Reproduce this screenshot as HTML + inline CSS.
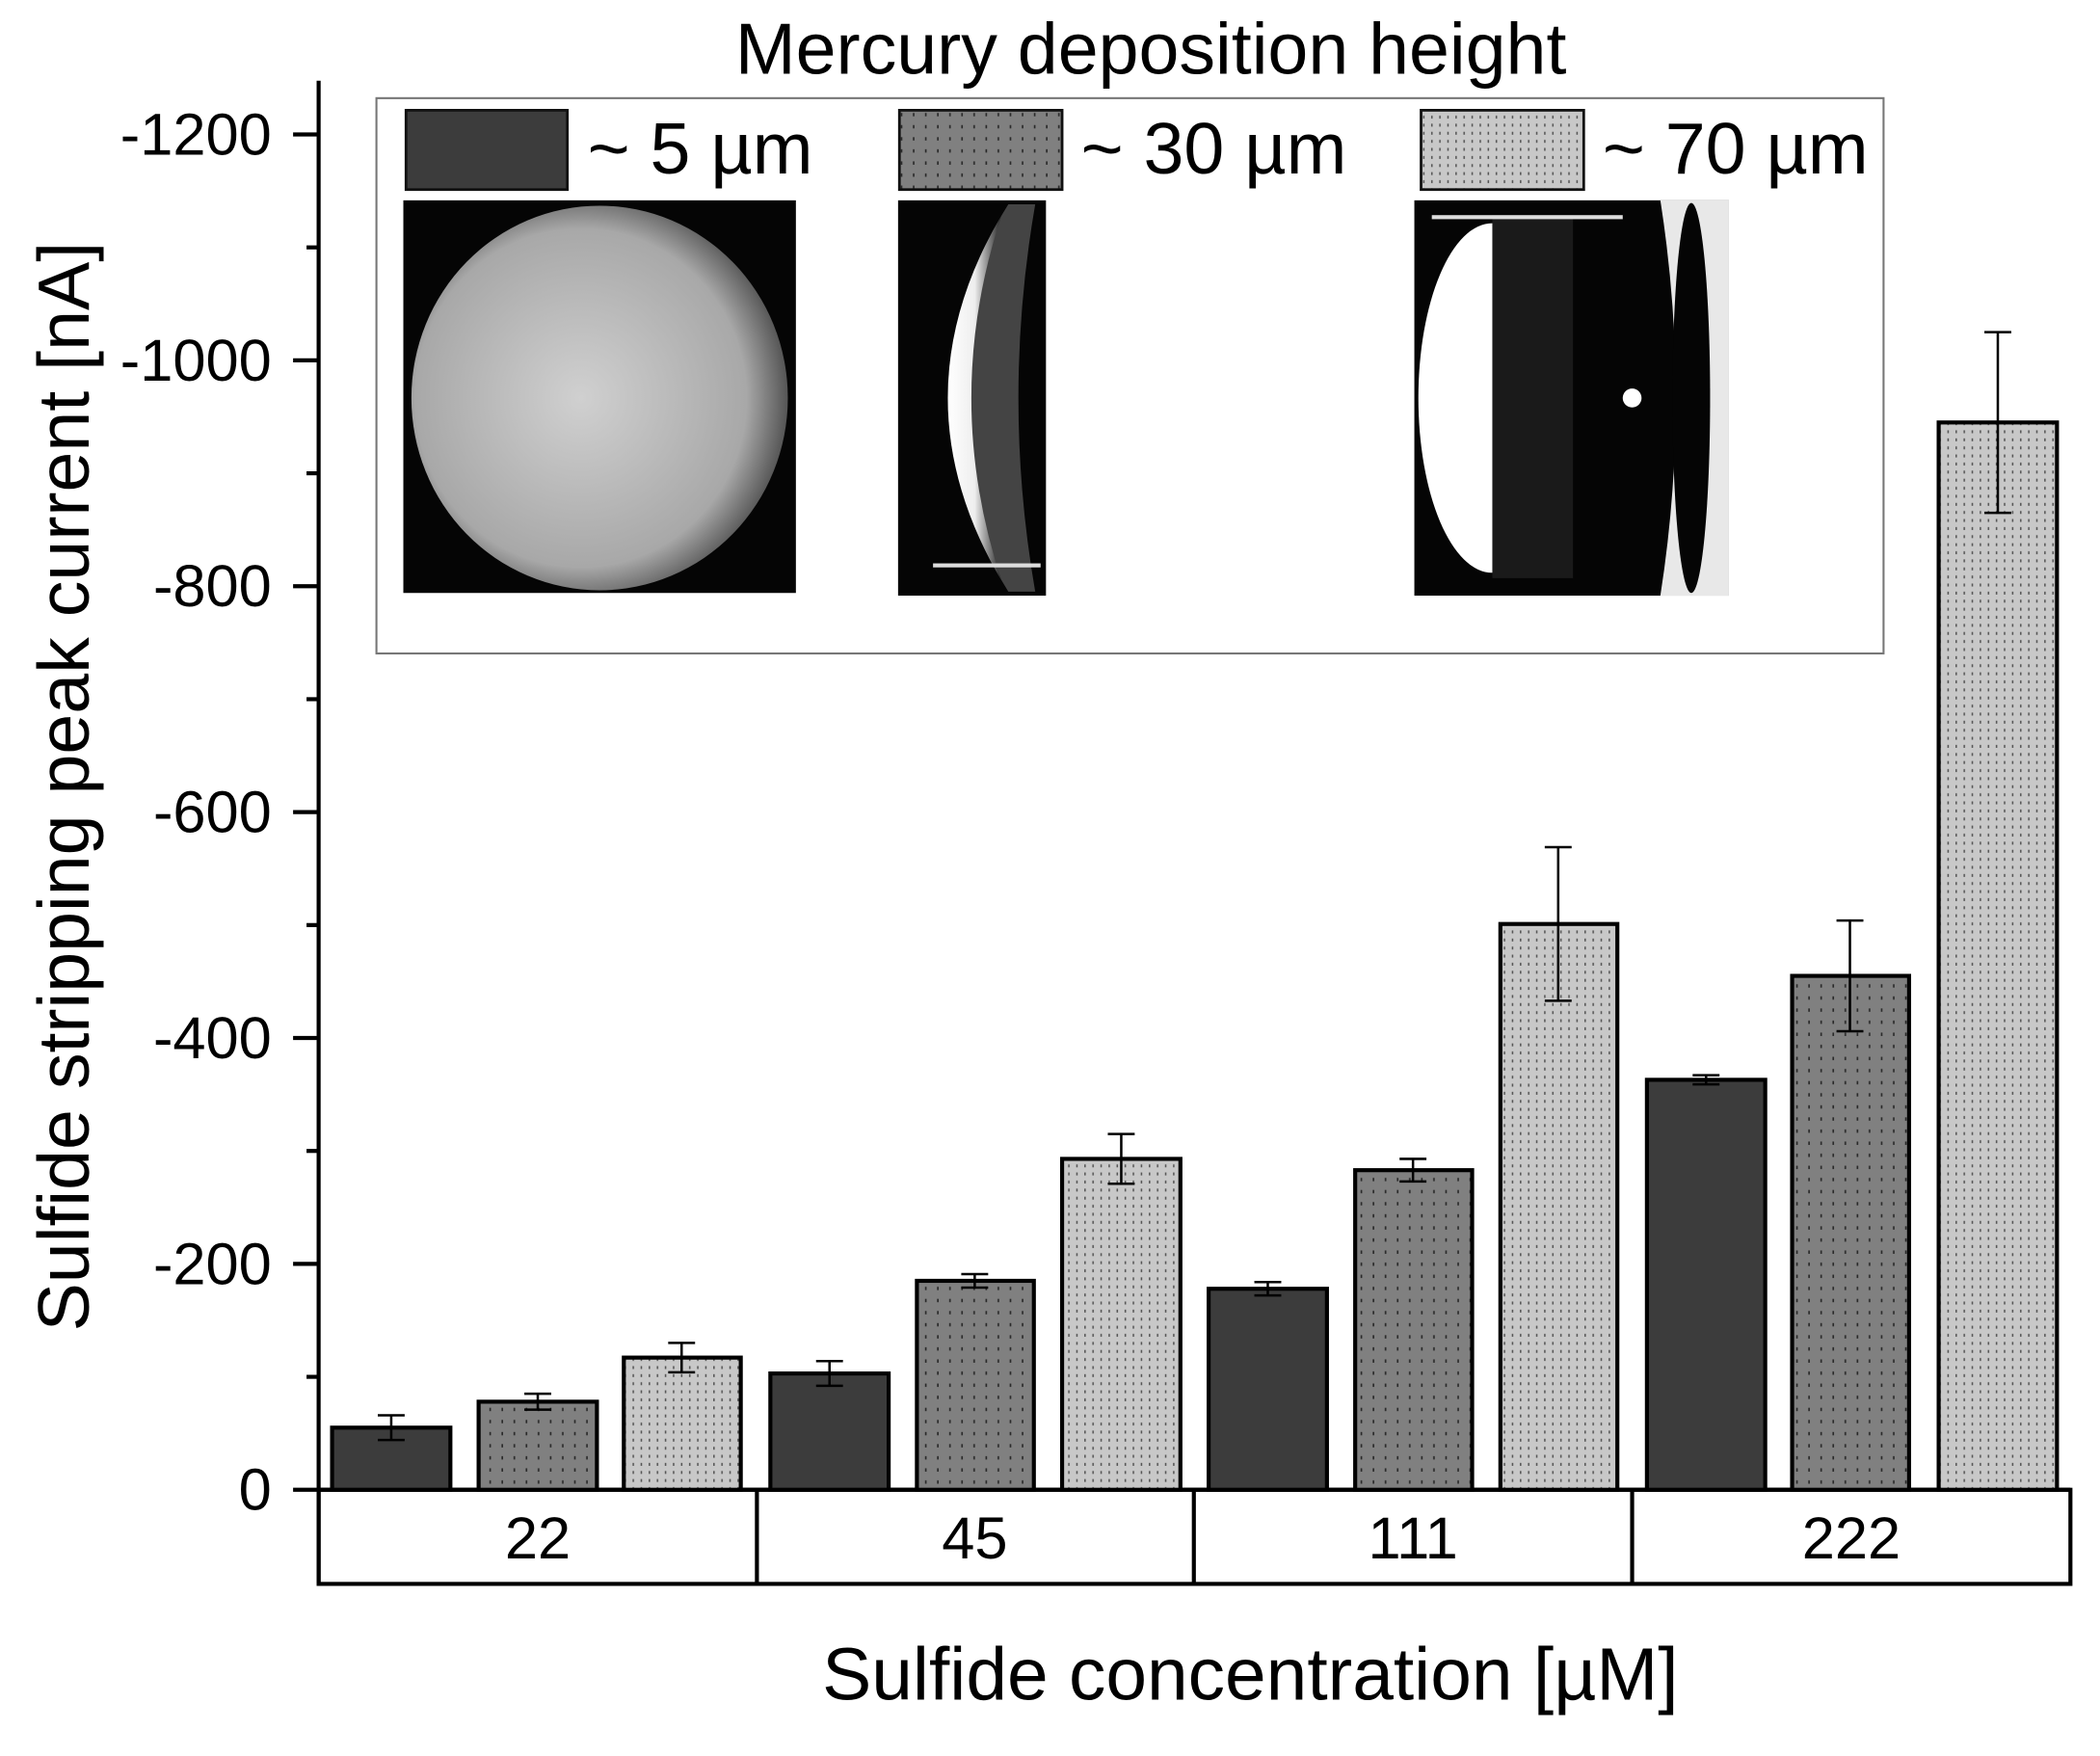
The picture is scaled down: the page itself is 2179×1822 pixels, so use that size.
<!DOCTYPE html>
<html><head><meta charset="utf-8"><style>
html,body{margin:0;padding:0;background:#fff;}
svg{display:block;}
text{font-family:"Liberation Sans",Arial,sans-serif;fill:#000;}
</style></head><body>
<svg width="2179" height="1822" viewBox="0 0 1562 1306" preserveAspectRatio="none" xmlns="http://www.w3.org/2000/svg">
<defs>
<pattern id="pm" width="9" height="9" patternUnits="userSpaceOnUse"><rect width="9" height="9" fill="#808080"/><rect x="4" y="3" width="1.2" height="2.5" fill="#2a2a2a"/></pattern>
<pattern id="pl" width="6" height="6" patternUnits="userSpaceOnUse"><rect width="6" height="6" fill="#c8c8c8"/><rect x="2.5" y="2" width="1.1" height="2.2" fill="#555"/></pattern>
<radialGradient id="g1" cx="0.45" cy="0.5" r="0.55"><stop offset="0" stop-color="#d0d0d0"/><stop offset="0.8" stop-color="#a8a8a8"/><stop offset="1" stop-color="#555"/></radialGradient>
<linearGradient id="g2" x1="0" x2="1"><stop offset="0" stop-color="#fff"/><stop offset="0.5" stop-color="#eee"/><stop offset="1" stop-color="#222"/></linearGradient>
</defs>
<text x="856" y="55" font-size="54" text-anchor="middle">Mercury deposition height</text>
<rect x="280" y="73" width="1121" height="413" fill="none" stroke="#777" stroke-width="1.5"/>
<rect x="302" y="82" width="120" height="59" fill="#3c3c3c" stroke="#111" stroke-width="2"/>
<rect x="669" y="82" width="121" height="59" fill="url(#pm)" stroke="#111" stroke-width="2"/>
<rect x="1057" y="82" width="121" height="59" fill="url(#pl)" stroke="#111" stroke-width="2"/>
<text x="437" y="129" font-size="54">~ 5 µm</text>
<text x="804" y="129" font-size="54">~ 30 µm</text>
<text x="1192" y="129" font-size="54">~ 70 µm</text>
<rect x="300" y="149" width="292" height="292" fill="#050505"/>
<ellipse cx="446" cy="296" rx="140" ry="143" fill="url(#g1)"/>
<rect x="668" y="149" width="110" height="294" fill="#050505"/>
<path d="M750,152 Q660,296 750,440 L770,440 Q745,296 770,152 Z" fill="#444"/>
<path d="M745,160 Q665,296 745,432 Q700,296 745,160 Z" fill="url(#g2)"/>
<rect x="694" y="419" width="80" height="3" fill="#ddd"/>
<rect x="1052" y="149" width="234" height="294" fill="#050505"/>
<ellipse cx="1110" cy="296" rx="55" ry="130" fill="#fff"/>
<rect x="1110" y="160" width="60" height="270" fill="#1a1a1a"/>
<path d="M1235,149 L1286,149 L1286,443 L1235,443 Q1258,296 1235,149 Z" fill="#e8e8e8"/>
<ellipse cx="1258" cy="296" rx="14" ry="145" fill="#050505"/>
<rect x="1065" y="160" width="142" height="3" fill="#ddd"/>
<circle cx="1214" cy="296" r="7" fill="#fff"/>
<g stroke="#000" stroke-width="3">
<line x1="237" y1="60" x2="237" y2="1178"/>
<line x1="218" y1="1108" x2="1540" y2="1108"/>
<rect x="237" y="1108" width="1303" height="70" fill="none"/>
<line x1="563" y1="1108" x2="563" y2="1178"/>
<line x1="888" y1="1108" x2="888" y2="1178"/>
<line x1="1214" y1="1108" x2="1214" y2="1178"/>
<line x1="218" y1="100" x2="237" y2="100"/><line x1="218" y1="268" x2="237" y2="268"/>
<line x1="218" y1="436" x2="237" y2="436"/><line x1="218" y1="604" x2="237" y2="604"/>
<line x1="218" y1="772" x2="237" y2="772"/><line x1="218" y1="940" x2="237" y2="940"/>
<line x1="228" y1="184" x2="237" y2="184"/><line x1="228" y1="352" x2="237" y2="352"/>
<line x1="228" y1="520" x2="237" y2="520"/><line x1="228" y1="688" x2="237" y2="688"/>
<line x1="228" y1="856" x2="237" y2="856"/><line x1="228" y1="1024" x2="237" y2="1024"/>
</g>
<g font-size="44" text-anchor="end">
<text x="202" y="115">-1200</text><text x="202" y="283">-1000</text><text x="202" y="451">-800</text>
<text x="202" y="619">-600</text><text x="202" y="787">-400</text><text x="202" y="955">-200</text><text x="202" y="1123">0</text>
</g>
<g font-size="44" text-anchor="middle">
<text x="400" y="1159">22</text><text x="725" y="1159">45</text><text x="1051" y="1159">111</text><text x="1377" y="1159">222</text>
</g>
<text x="930" y="1264" font-size="55" text-anchor="middle">Sulfide concentration [µM]</text>
<text transform="translate(66,585) rotate(-90)" font-size="54" text-anchor="middle">Sulfide stripping peak current [nA]</text>
<g stroke="#000" stroke-width="3">
<rect x="247" y="1061.8" width="88" height="46.2" fill="#3c3c3c"/>
<rect x="356" y="1042.5" width="88" height="65.5" fill="url(#pm)"/>
<rect x="464" y="1009.7" width="87" height="98.3" fill="url(#pl)"/>
<rect x="573" y="1021.5" width="88" height="86.5" fill="#3c3c3c"/>
<rect x="682" y="952.6" width="87" height="155.4" fill="url(#pm)"/>
<rect x="790" y="861.9" width="88" height="246.1" fill="url(#pl)"/>
<rect x="899" y="958.5" width="88" height="149.5" fill="#3c3c3c"/>
<rect x="1008" y="870.3" width="87" height="237.7" fill="url(#pm)"/>
<rect x="1116" y="687.2" width="87" height="420.8" fill="url(#pl)"/>
<rect x="1225" y="803.1" width="88" height="304.9" fill="#3c3c3c"/>
<rect x="1333" y="725.8" width="87" height="382.2" fill="url(#pm)"/>
<rect x="1442" y="314.2" width="88" height="793.8" fill="url(#pl)"/>
</g>
<g stroke="#000" stroke-width="1.8">
<path d="M291,1052.6V1071M281,1052.6h20M281,1071h20"/>
<path d="M400,1036.6V1048.4M390,1036.6h20M390,1048.4h20"/>
<path d="M507,998.8V1020.6M497,998.8h20M497,1020.6h20"/>
<path d="M617,1012.3V1030.7M607,1012.3h20M607,1030.7h20"/>
<path d="M725,947.6V957.6M715,947.6h20M715,957.6h20"/>
<path d="M834,843.4V880.4M824,843.4h20M824,880.4h20"/>
<path d="M943,953.5V963.5M933,953.5h20M933,963.5h20"/>
<path d="M1051,861.9V878.7M1041,861.9h20M1041,878.7h20"/>
<path d="M1159,630.1V744.3M1149,630.1h20M1149,744.3h20"/>
<path d="M1269,799.7V806.5M1259,799.7h20M1259,806.5h20"/>
<path d="M1376,684.6V767M1366,684.6h20M1366,767h20"/>
<path d="M1486,247V381.4M1476,247h20M1476,381.4h20"/>
</g>
</svg>
</body></html>
